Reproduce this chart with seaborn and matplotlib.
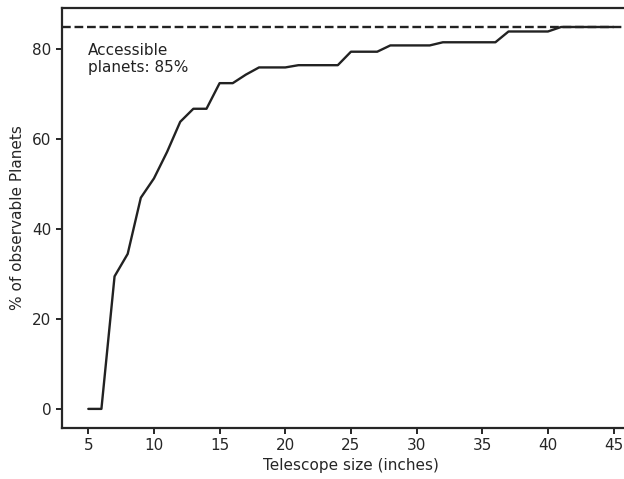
import matplotlib
matplotlib.use("Agg")
import matplotlib.pyplot as plt
import seaborn as sns
import pandas as pd

# telescope aperture (inches) vs share of planets observable
telescope_size = list(range(5, 46))
pct_observable = [0, 0, 29.5, 34.5, 47.0, 51.3, 57.2, 63.9, 66.8, 66.8,
                  72.5, 72.5, 74.4, 76.0, 76.0, 76.0, 76.5, 76.5, 76.5, 76.5,
                  79.5, 79.5, 79.5, 80.9, 80.9, 80.9, 80.9, 81.6, 81.6, 81.6,
                  81.6, 81.6, 84.0, 84.0, 84.0, 84.0, 85.0, 85.0, 85.0, 85.0,
                  85.0]
accessible = 85

df = pd.DataFrame({'size': telescope_size, 'pct': pct_observable})

sns.set_theme(context='notebook', style='ticks')
plt.rcParams['font.family'] = ['DejaVu Sans']
plt.rcParams['axes.linewidth'] = 1.6

fig = plt.figure(figsize=(6.24, 4.79), dpi=100)
ax = fig.add_axes([0.0994, 0.1065, 0.926, 0.877])

sns.lineplot(data=df, x='size', y='pct', color='#222222', lw=1.7, ax=ax)
ax.axhline(accessible, color='#222222', linestyle='--', lw=1.7)

ax.text(5, 75, 'Accessible\nplanets: 85%', fontsize=11, color='#222222')

ax.set_xticks(range(5, 50, 5))
ax.set_yticks(range(0, 100, 20))
ax.set_xlim(3, 47)
ax.set_ylim(-4.25, 89.25)
ax.tick_params(labelsize=11, length=4.5, width=1.4, pad=3)
ax.set_xlabel('Telescope size (inches)', fontsize=11, labelpad=3)
ax.set_ylabel('% of observable Planets', fontsize=11, labelpad=5)

fig.savefig('out.png', dpi=100)
